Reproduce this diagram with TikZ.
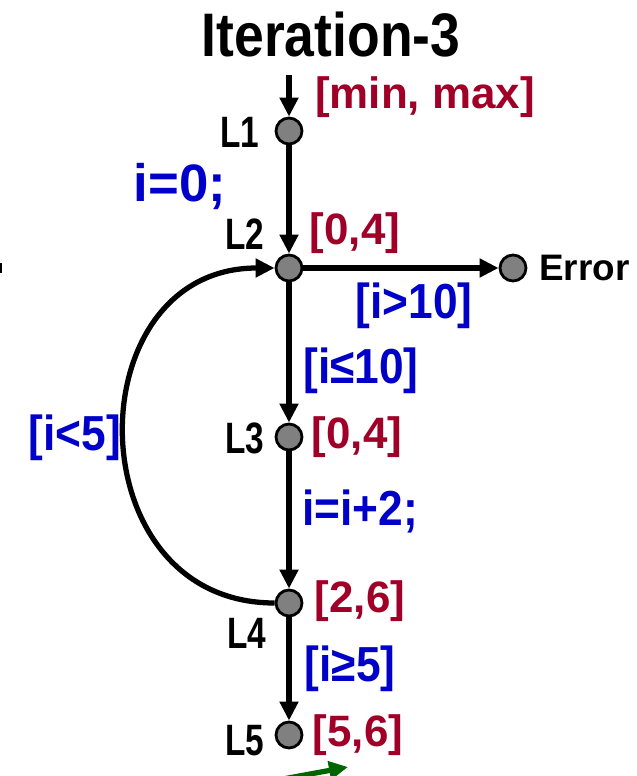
\documentclass[tikz,border=0pt]{standalone}
\usepackage{fontspec}
\setmainfont{Liberation Sans}
\newfontfamily\titlefont[FakeStretch=0.87]{Liberation Sans}
\newfontfamily\narrowfont[FakeStretch=0.76]{Liberation Sans}
\newfontfamily\guardfont[FakeStretch=0.9]{Liberation Sans}
\usetikzlibrary{arrows.meta,calc}
\definecolor{valred}{RGB}{160,0,40}
\definecolor{edgeblue}{RGB}{0,0,200}
\definecolor{nodegray}{RGB}{128,128,128}
\definecolor{darkgreen}{RGB}{0,100,0}
\tikzset{
  loc/.style={circle,draw=black,line width=1.6pt,fill=nodegray,minimum size=0.52cm,inner sep=0pt},
  flow/.style={line width=3pt,-{Triangle[length=0.38cm,width=0.36cm]}},
  lname/.style={inner sep=0pt,font=\narrowfont\bfseries\fontsize{25}{27}\selectfont},
  interval/.style={inner sep=0pt,text=valred,font=\bfseries\fontsize{25}{27}\selectfont},
  guard/.style={inner sep=0pt,text=edgeblue,font=\guardfont\bfseries\fontsize{28}{30}\selectfont},
}
\begin{document}
\begin{tikzpicture}[x=0.02cm,y=-0.02cm]
\clip (0,0) rectangle (636,776);
% title
\node[inner sep=0pt,font=\titlefont\bfseries\fontsize{35}{38}\selectfont] (title) at (331,35) {Iteration-3};
% locations
\node[loc] (L1) at (289,131) {};
\node[loc] (L2) at (289,268) {};
\node[loc] (L3) at (289,437) {};
\node[loc] (L4) at (289,603) {};
\node[loc] (L5) at (289,735) {};
\node[loc] (Err) at (513,268) {};
\coordinate (entry) at (289,75);
% location names
\node[lname] (nL1) at (240,132) {L1};
\node[lname] (nL2) at (245,234) {L2};
\node[lname] (nL3) at (245,438) {L3};
\node[lname] (nL4) at (247,633) {L4};
\node[lname] (nL5) at (245,741) {L5};
\node[inner sep=0pt,font=\bfseries\fontsize{21}{23}\selectfont,anchor=west] (nErr) at (539,268) {Error};
% intervals
\node[interval] (v1) at (425,97) {[min, max]};
\node[interval] (v2) at (355,233) {[0,4]};
\node[interval] (v3) at (357,437) {[0,4]};
\node[interval] (v4) at (360,601) {[2,6]};
\node[interval] (v5) at (358,735) {[5,6]};
% edge labels
\node[guard,font=\bfseries\fontsize{30}{32}\selectfont] (g1) at (180,186) {i=0;};
\node[guard] (g2) at (414,306) {[i>10]};
\node[guard] (g3) at (361,371) {[i≤10]};
\node[guard] (g4) at (360,511) {i=i+2;};
\node[guard] (g5) at (75,438) {[i<5]};
\node[guard] (g6) at (350,669) {[i≥5]};
% edges
\draw[flow] (entry) -- (L1);
\draw[flow] (L1) -- (L2);
\draw[flow] (L2) -- (Err);
\draw[flow] (L2) -- (L3);
\draw[flow] (L3) -- (L4);
\draw[flow] (L4) -- (L5);
\draw[flow] (L4.west) .. controls ($(L4.west)+(-200,0)$) and ($(L2.west)+(-200,0)$) .. (L2.west);
% cut-off pieces at the border
\coordinate (gstart) at (283,779);
\coordinate (gend) at (348,767);
\draw[flow,draw=darkgreen,fill=darkgreen] (gstart) -- (gend);
\fill[black] (0,263) rectangle (2,273);
\end{tikzpicture}
\end{document}
